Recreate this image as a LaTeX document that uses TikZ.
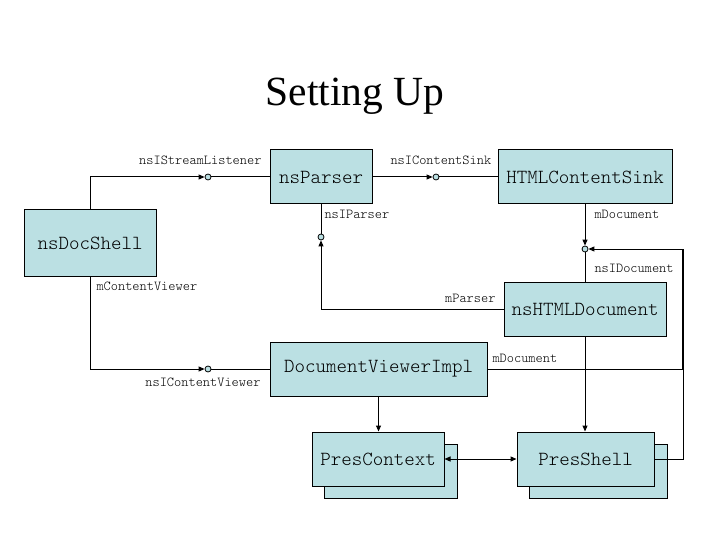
\documentclass[tikz,border=0pt]{standalone}
\usepackage{fontspec}
\setmainfont{Liberation Serif}
\newfontfamily\lightmono{Latin Modern Mono Light}
\usetikzlibrary{arrows.meta,calc}
\definecolor{boxfill}{RGB}{187,224,227}
\begin{document}
\begin{tikzpicture}[x=1pt,y=-1pt,line width=1pt,
  box/.style={draw=black,fill=boxfill,inner sep=0pt,font=\fontsize{20}{22}\selectfont\lightmono},
  lbl/.style={inner sep=0pt,font=\fontsize{13.7}{15}\selectfont\lightmono},
  lol/.style={circle,draw=black,fill=boxfill,inner sep=0pt,minimum size=6pt,line width=0.8pt},
  arr/.style={-{Triangle[length=6pt,width=5pt]}},
  arrb/.style={{Triangle[length=6pt,width=5pt]}-{Triangle[length=6pt,width=5pt]}}]
\useasboundingbox (0,0) rectangle (720,540);
\fill[white] (0,0) rectangle (720,540);
% title
\node[inner sep=0pt,anchor=base,font=\fontsize{41.5}{48}\selectfont] (title) at (355,106) {Setting Up};
% boxes
\node[box,minimum width=132pt,minimum height=66pt] (docshell) at (90,243) {nsDocShell};
\node[box,minimum width=102pt,minimum height=54pt] (parser) at (321,177) {nsParser};
\node[box,minimum width=174pt,minimum height=54pt] (sink) at (585,177) {HTMLContentSink};
\node[box,minimum width=162pt,minimum height=54pt] (htmldoc) at (585,309) {nsHTMLDocument};
\node[box,minimum width=217pt,minimum height=54pt] (dvi) at (378.5,369) {DocumentViewerImpl};
\node[box,minimum width=133pt,minimum height=54pt] (pcback) at (390.5,471) {};
\node[box,minimum width=132pt,minimum height=54pt] (pc) at (378,459) {PresContext};
\node[box,minimum width=138pt,minimum height=54pt] (psback) at (598,471) {};
\node[box,minimum width=137pt,minimum height=54pt] (ps) at (585.5,459) {PresShell};
% lollipops
\node[lol] (c1) at (208,177) {};
\node[lol] (c2) at (436,177) {};
\node[lol] (c3) at (321,237) {};
\node[lol] (c4) at (585,249) {};
\node[lol] (c5) at (208,369) {};
\coordinate (r) at (683,249);
\coordinate (j) at (683,369);
% connectors
\draw (c1) -- (parser.west);
\draw[arr] (docshell.north) |- (c1);
\draw[arr] (parser.east) -- (c2);
\draw (c2) -- (sink.west);
\draw (parser.south) -- (c3);
\draw[arr] (htmldoc.west) -| (c3);
\draw[arr] (sink.south) -- (c4);
\draw (c4) -- (htmldoc.north);
\draw[arr] (ps.east) -| (r) -- (c4);
\draw (dvi.east) -- (j);
\draw[line width=2pt] ([xshift=-0.5pt]j) -- ([xshift=-0.5pt]r);
\draw[arr] (docshell.south) |- (c5);
\draw (c5) -- (dvi.west);
\draw[arr] (dvi.south) -- (dvi.south |- pc.north);
\draw[arr] (htmldoc.south) -- (htmldoc.south |- ps.north);
\draw[arrb] (pc.east) -- (ps.west);
% labels
\node[lbl,anchor=east] (l1) at (262,160) {nsIStreamListener};
\node[lbl,anchor=west] (l2) at (390,160) {nsIContentSink};
\node[lbl,anchor=west] (l3) at (324,214) {nsIParser};
\node[lbl,anchor=west] (l4) at (594,214) {mDocument};
\node[lbl,anchor=west] (l5) at (594,268) {nsIDocument};
\node[lbl,anchor=east] (l6) at (496,298) {mParser};
\node[lbl,anchor=west] (l7) at (96,286) {mContentViewer};
\node[lbl,anchor=east] (l8) at (261,382) {nsIContentViewer};
\node[lbl,anchor=west] (l9) at (492,358) {mDocument};
\end{tikzpicture}
\end{document}
